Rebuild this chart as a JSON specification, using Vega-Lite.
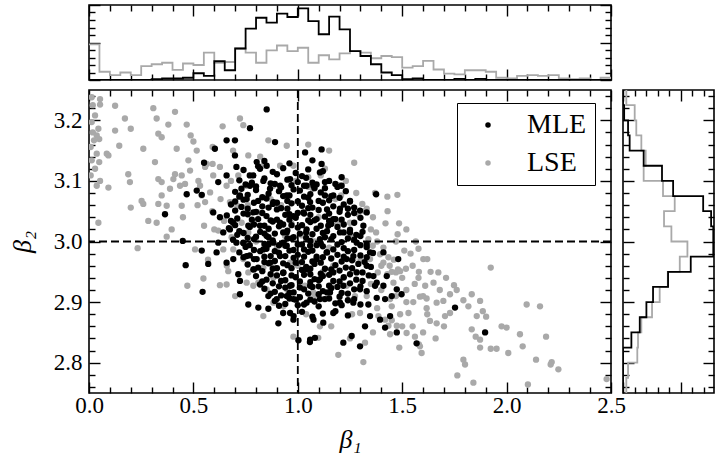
{
"$schema": "https://vega.github.io/schema/vega-lite/v6.json",
"background": "white",
"padding": {"left": 8, "top": 3, "right": 0, "bottom": 0},
"bounds": "flush",
"spacing": 10,
"config": {
  "font": "Liberation Serif, DejaVu Serif, serif",
  "view": {"stroke": "#000000", "strokeWidth": 1.6},
  "axis": {"domain": false, "grid": false, "tickColor": "#000000", "tickWidth": 1.4, "labelFont": "Liberation Serif, DejaVu Serif, serif", "labelFontSize": 23, "labelColor": "#000000", "labelOverlap": false, "labelFlush": false, "titleFont": "Liberation Serif, DejaVu Serif, serif", "titleFontSize": 26, "titleFontWeight": "normal", "titleFontStyle": "italic", "titleColor": "#000000", "zindex": 1}
},
"datasets": {
"pts": [
{"est":"LSE","b1":0.013,"b2":3.238},{"est":"LSE","b1":0.053,"b2":3.235},{"est":"LSE","b1":0.053,"b2":3.226},{"est":"LSE","b1":0.018,"b2":3.225},{"est":"LSE","b1":0.029,"b2":3.208},{"est":"LSE","b1":0.013,"b2":3.197},{"est":"LSE","b1":0.045,"b2":3.186},{"est":"LSE","b1":0.018,"b2":3.18},{"est":"LSE","b1":0.037,"b2":3.175},{"est":"LSE","b1":0.024,"b2":3.167},{"est":"LSE","b1":0.049,"b2":3.169},{"est":"LSE","b1":0.008,"b2":3.156},{"est":"LSE","b1":0.037,"b2":3.145},{"est":"LSE","b1":0.013,"b2":3.134},{"est":"LSE","b1":0.049,"b2":3.131},{"est":"LSE","b1":0.029,"b2":3.12},{"est":"LSE","b1":0.008,"b2":3.109},{"est":"LSE","b1":0.053,"b2":3.1},{"est":"LSE","b1":0.037,"b2":3.092},{"est":"LSE","b1":0.093,"b2":3.089},{"est":"LSE","b1":0.045,"b2":3.031},{"est":"LSE","b1":0.125,"b2":3.224},{"est":"LSE","b1":0.172,"b2":3.203},{"est":"LSE","b1":0.2,"b2":3.186},{"est":"LSE","b1":0.125,"b2":3.183},{"est":"LSE","b1":0.085,"b2":3.145},{"est":"LSE","b1":0.093,"b2":3.142},{"est":"LSE","b1":0.145,"b2":3.158},{"est":"LSE","b1":0.188,"b2":3.111},{"est":"LSE","b1":0.196,"b2":3.098},{"est":"LSE","b1":0.252,"b2":3.067},{"est":"LSE","b1":0.2,"b2":3.056},{"est":"LSE","b1":0.233,"b2":2.989},{"est":"LSE","b1":0.26,"b2":3.153},{"est":"LSE","b1":0.26,"b2":3.062},{"est":"LSE","b1":0.284,"b2":3.034},{"est":"LSE","b1":0.308,"b2":3.22},{"est":"LSE","b1":0.324,"b2":3.203},{"est":"LSE","b1":0.332,"b2":3.178},{"est":"LSE","b1":0.348,"b2":3.172},{"est":"LSE","b1":0.316,"b2":3.131},{"est":"LSE","b1":0.332,"b2":3.103},{"est":"LSE","b1":0.332,"b2":3.062},{"est":"LSE","b1":0.348,"b2":3.076},{"est":"LSE","b1":0.348,"b2":3.098},{"est":"LSE","b1":0.372,"b2":3.059},{"est":"LSE","b1":0.388,"b2":3.087},{"est":"LSE","b1":0.38,"b2":3.193},{"est":"LSE","b1":0.412,"b2":3.214},{"est":"LSE","b1":0.42,"b2":3.153},{"est":"LSE","b1":0.404,"b2":3.103},{"est":"LSE","b1":0.412,"b2":3.111},{"est":"LSE","b1":0.444,"b2":3.109},{"est":"LSE","b1":0.436,"b2":3.092},{"est":"LSE","b1":0.396,"b2":3.02},{"est":"LSE","b1":0.444,"b2":3.059},{"est":"LSE","b1":0.324,"b2":3.031},{"est":"LSE","b1":0.372,"b2":3.008},{"est":"LSE","b1":0.468,"b2":3.193},{"est":"LSE","b1":0.487,"b2":3.175},{"est":"LSE","b1":0.5,"b2":3.165},{"est":"LSE","b1":0.516,"b2":3.15},{"est":"LSE","b1":0.476,"b2":3.134},{"est":"LSE","b1":0.484,"b2":3.117},{"est":"LSE","b1":0.46,"b2":3.095},{"est":"LSE","b1":0.524,"b2":3.1},{"est":"LSE","b1":0.532,"b2":3.092},{"est":"LSE","b1":0.556,"b2":3.123},{"est":"LSE","b1":0.564,"b2":3.128},{"est":"LSE","b1":0.54,"b2":3.076},{"est":"LSE","b1":0.58,"b2":3.081},{"est":"LSE","b1":0.556,"b2":3.065},{"est":"LSE","b1":0.471,"b2":2.927},{"est":"LSE","b1":0.508,"b2":2.987},{"est":"LSE","b1":0.551,"b2":3.026},{"est":"LSE","b1":0.548,"b2":2.939},{"est":"LSE","b1":0.592,"b2":3.156},{"est":"LSE","b1":0.592,"b2":3.128},{"est":"LSE","b1":0.595,"b2":3.109},{"est":"LSE","b1":0.627,"b2":3.123},{"est":"LSE","b1":0.659,"b2":3.092},{"est":"LSE","b1":0.675,"b2":3.065},{"est":"LSE","b1":0.647,"b2":3.034},{"est":"LSE","b1":0.619,"b2":3.018},{"est":"LSE","b1":0.643,"b2":2.987},{"est":"LSE","b1":0.683,"b2":3.007},{"est":"LSE","b1":0.627,"b2":2.928},{"est":"LSE","b1":0.659,"b2":2.929},{"est":"LSE","b1":0.667,"b2":2.951},{"est":"LSE","b1":0.691,"b2":2.987},{"est":"LSE","b1":0.723,"b2":3.203},{"est":"LSE","b1":0.739,"b2":3.192},{"est":"LSE","b1":0.763,"b2":3.142},{"est":"LSE","b1":0.715,"b2":3.109},{"est":"LSE","b1":0.755,"b2":3.092},{"est":"LSE","b1":0.71,"b2":3.059},{"est":"LSE","b1":0.731,"b2":3.031},{"est":"LSE","b1":0.763,"b2":3.015},{"est":"LSE","b1":0.739,"b2":2.971},{"est":"LSE","b1":0.763,"b2":2.949},{"est":"LSE","b1":0.755,"b2":2.932},{"est":"LSE","b1":0.787,"b2":2.927},{"est":"LSE","b1":0.811,"b2":2.932},{"est":"LSE","b1":0.851,"b2":2.921},{"est":"LSE","b1":0.835,"b2":2.957},{"est":"LSE","b1":0.883,"b2":2.94},{"est":"LSE","b1":0.859,"b2":3.167},{"est":"LSE","b1":0.947,"b2":3.158},{"est":"LSE","b1":0.979,"b2":3.125},{"est":"LSE","b1":0.835,"b2":2.877},{"est":"LSE","b1":0.883,"b2":2.899},{"est":"LSE","b1":0.931,"b2":2.893},{"est":"LSE","b1":0.979,"b2":2.843},{"est":"LSE","b1":0.963,"b2":2.965},{"est":"LSE","b1":0.939,"b2":3.009},{"est":"LSE","b1":0.811,"b2":3.048},{"est":"LSE","b1":0.883,"b2":3.092},{"est":"LSE","b1":0.915,"b2":3.125},{"est":"LSE","b1":0.835,"b2":3.125},{"est":"LSE","b1":0.87,"b2":3.07},
{"est":"LSE","b1":1.429,"b2":3.074},{"est":"LSE","b1":1.477,"b2":3.077},{"est":"LSE","b1":1.485,"b2":3.03},{"est":"LSE","b1":1.478,"b2":3.012},{"est":"LSE","b1":1.375,"b2":3.015},{"est":"LSE","b1":1.565,"b2":3.0},{"est":"LSE","b1":1.578,"b2":2.988},{"est":"LSE","b1":1.601,"b2":2.971},{"est":"LSE","b1":1.62,"b2":2.971},{"est":"LSE","b1":1.51,"b2":2.985},{"est":"LSE","b1":1.48,"b2":2.954},{"est":"LSE","b1":1.47,"b2":2.949},{"est":"LSE","b1":1.518,"b2":2.955},{"est":"LSE","b1":1.578,"b2":2.94},{"est":"LSE","b1":1.636,"b2":2.95},{"est":"LSE","b1":1.673,"b2":2.949},{"est":"LSE","b1":1.65,"b2":2.932},{"est":"LSE","b1":1.61,"b2":2.927},{"est":"LSE","b1":1.585,"b2":2.909},{"est":"LSE","b1":1.617,"b2":2.906},{"est":"LSE","b1":1.553,"b2":2.9},{"est":"LSE","b1":1.53,"b2":2.882},{"est":"LSE","b1":1.617,"b2":2.89},{"est":"LSE","b1":1.665,"b2":2.899},{"est":"LSE","b1":1.705,"b2":2.877},{"est":"LSE","b1":1.697,"b2":2.902},{"est":"LSE","b1":1.729,"b2":2.913},{"est":"LSE","b1":1.748,"b2":2.928},{"est":"LSE","b1":1.761,"b2":2.92},{"est":"LSE","b1":1.793,"b2":2.903},{"est":"LSE","b1":1.833,"b2":2.913},{"est":"LSE","b1":1.817,"b2":2.893},{"est":"LSE","b1":1.873,"b2":2.902},{"est":"LSE","b1":1.886,"b2":2.885},{"est":"LSE","b1":1.902,"b2":2.876},{"est":"LSE","b1":1.924,"b2":2.957},{"est":"LSE","b1":1.857,"b2":2.877},{"est":"LSE","b1":1.833,"b2":2.855},{"est":"LSE","b1":1.873,"b2":2.825},{"est":"LSE","b1":1.924,"b2":2.823},{"est":"LSE","b1":1.952,"b2":2.823},{"est":"LSE","b1":2.008,"b2":2.816},{"est":"LSE","b1":1.976,"b2":2.86},{"est":"LSE","b1":2.0,"b2":2.858},{"est":"LSE","b1":2.064,"b2":2.847},{"est":"LSE","b1":2.096,"b2":2.896},{"est":"LSE","b1":2.16,"b2":2.893},{"est":"LSE","b1":2.189,"b2":2.843},{"est":"LSE","b1":2.141,"b2":2.805},{"est":"LSE","b1":2.077,"b2":2.827},{"est":"LSE","b1":2.216,"b2":2.801},{"est":"LSE","b1":2.211,"b2":2.797},{"est":"LSE","b1":2.248,"b2":2.789},{"est":"LSE","b1":2.102,"b2":2.764},{"est":"LSE","b1":1.841,"b2":2.767},{"est":"LSE","b1":1.764,"b2":2.779},{"est":"LSE","b1":1.793,"b2":2.805},{"est":"LSE","b1":1.801,"b2":2.797},{"est":"LSE","b1":2.479,"b2":2.773},{"est":"LSE","b1":1.852,"b2":2.843},{"est":"LSE","b1":1.873,"b2":2.838},{"est":"LSE","b1":1.665,"b2":2.865},{"est":"LSE","b1":1.633,"b2":2.869},{"est":"LSE","b1":1.729,"b2":2.882},{"est":"LSE","b1":1.593,"b2":2.816},{"est":"LSE","b1":1.585,"b2":2.827},{"est":"LSE","b1":1.486,"b2":2.825},{"est":"LSE","b1":1.521,"b2":2.849},{"est":"LSE","b1":1.561,"b2":2.843},{"est":"LSE","b1":1.442,"b2":2.847},{"est":"LSE","b1":1.418,"b2":2.871},{"est":"LSE","b1":1.434,"b2":2.861},{"est":"LSE","b1":1.474,"b2":2.861},{"est":"LSE","b1":1.386,"b2":2.877},{"est":"LSE","b1":1.322,"b2":2.833},{"est":"LSE","b1":1.314,"b2":2.801},{"est":"LSE","b1":1.194,"b2":2.813},{"est":"LSE","b1":1.45,"b2":2.893},{"est":"LSE","b1":1.442,"b2":2.905},{"est":"LSE","b1":1.429,"b2":2.946},{"est":"LSE","b1":1.458,"b2":2.932},{"est":"LSE","b1":1.41,"b2":2.965},{"est":"LSE","b1":1.434,"b2":2.974},{"est":"LSE","b1":1.394,"b2":2.979},{"est":"LSE","b1":1.346,"b2":2.971},{"est":"LSE","b1":1.49,"b2":2.951},{"est":"LSE","b1":1.383,"b2":2.949},{"est":"LSE","b1":1.359,"b2":2.993},{"est":"LSE","b1":1.338,"b2":3.004},{"est":"LSE","b1":1.309,"b2":3.062},{"est":"LSE","b1":1.33,"b2":3.054},{"est":"LSE","b1":1.29,"b2":3.045},{"est":"LSE","b1":1.25,"b2":3.031},{"est":"LSE","b1":1.197,"b2":3.093},{"est":"LSE","b1":1.207,"b2":3.076},{"est":"LSE","b1":1.253,"b2":3.007},{"est":"LSE","b1":1.266,"b2":2.971},{"est":"LSE","b1":1.234,"b2":2.927},{"est":"LSE","b1":1.274,"b2":2.91},{"est":"LSE","b1":1.298,"b2":2.882},{"est":"LSE","b1":1.162,"b2":2.927},{"est":"LSE","b1":1.122,"b2":2.905},{"est":"LSE","b1":1.106,"b2":2.86},{"est":"LSE","b1":1.098,"b2":2.841},{"est":"LSE","b1":1.074,"b2":2.916},{"est":"LSE","b1":1.034,"b2":2.927},{"est":"LSE","b1":1.17,"b2":2.96},{"est":"LSE","b1":1.11,"b2":3.109},{"est":"LSE","b1":1.05,"b2":3.106},{"est":"LSE","b1":1.071,"b2":3.087},
{"est":"LSE","b1":0.92,"b2":3.06},{"est":"LSE","b1":1.05,"b2":3.09},{"est":"LSE","b1":1.18,"b2":3.07},{"est":"LSE","b1":0.97,"b2":3.03},{"est":"LSE","b1":1.1,"b2":3.04},{"est":"LSE","b1":1.25,"b2":3.02},{"est":"LSE","b1":0.9,"b2":2.99},{"est":"LSE","b1":1.02,"b2":3.01},{"est":"LSE","b1":1.15,"b2":2.99},{"est":"LSE","b1":1.3,"b2":2.97},{"est":"LSE","b1":1.0,"b2":2.96},{"est":"LSE","b1":1.12,"b2":2.95},{"est":"LSE","b1":1.22,"b2":2.94},{"est":"LSE","b1":0.95,"b2":2.92},{"est":"LSE","b1":1.08,"b2":2.91},{"est":"LSE","b1":1.2,"b2":2.9},{"est":"LSE","b1":1.35,"b2":2.93},{"est":"LSE","b1":1.28,"b2":2.95},{"est":"LSE","b1":0.86,"b2":3.02},{"est":"LSE","b1":0.99,"b2":3.1},{"est":"LSE","b1":1.13,"b2":3.12},{"est":"LSE","b1":1.23,"b2":3.1},{"est":"LSE","b1":1.32,"b2":3.05},{"est":"LSE","b1":1.38,"b2":3.0},{"est":"LSE","b1":1.4,"b2":2.96},{"est":"LSE","b1":0.88,"b2":2.96},{"est":"LSE","b1":1.04,"b2":2.88},{"est":"LSE","b1":1.16,"b2":2.86},{"est":"LSE","b1":1.26,"b2":2.88},{"est":"LSE","b1":0.8,"b2":3.0},{"est":"LSE","b1":0.76,"b2":3.06},{"est":"LSE","b1":0.82,"b2":3.14},{"est":"LSE","b1":1.08,"b2":3.0},{"est":"LSE","b1":1.19,"b2":3.03},{"est":"LSE","b1":1.33,"b2":2.99},{"est":"LSE","b1":1.45,"b2":2.95},{"est":"LSE","b1":1.52,"b2":2.92},{"est":"LSE","b1":1.55,"b2":2.96},{"est":"LSE","b1":1.42,"b2":3.03},{"est":"LSE","b1":1.37,"b2":3.08},{"est":"LSE","b1":1.27,"b2":3.13},{"est":"LSE","b1":1.15,"b2":3.15},{"est":"LSE","b1":1.05,"b2":3.16},{"est":"LSE","b1":0.69,"b2":3.15},{"est":"LSE","b1":0.64,"b2":3.19},{"est":"LSE","b1":0.59,"b2":3.05},{"est":"LSE","b1":0.66,"b2":2.96},{"est":"LSE","b1":0.7,"b2":2.91},{"est":"LSE","b1":1.47,"b2":2.91},{"est":"LSE","b1":1.49,"b2":2.88},{"est":"LSE","b1":1.36,"b2":2.85},{"est":"LSE","b1":1.25,"b2":2.84},{"est":"LSE","b1":1.62,"b2":2.88},{"est":"LSE","b1":1.68,"b2":2.92},{"est":"LSE","b1":1.71,"b2":2.94},{"est":"LSE","b1":1.55,"b2":2.86},{"est":"LSE","b1":1.58,"b2":2.83},{"est":"LSE","b1":1.46,"b2":2.97},{"est":"LSE","b1":1.52,"b2":3.02},{"est":"LSE","b1":1.43,"b2":3.05},
{"est":"LSE","b1":1.35,"b2":3.02},{"est":"LSE","b1":1.41,"b2":2.99},{"est":"LSE","b1":1.44,"b2":2.96},{"est":"LSE","b1":1.5,"b2":2.94},{"est":"LSE","b1":1.56,"b2":2.93},{"est":"LSE","b1":1.52,"b2":2.9},{"est":"LSE","b1":1.6,"b2":2.91},{"est":"LSE","b1":1.58,"b2":2.95},{"est":"LSE","b1":1.54,"b2":2.98},{"est":"LSE","b1":1.47,"b2":3.0},{"est":"LSE","b1":1.4,"b2":2.92},{"est":"LSE","b1":1.33,"b2":2.91},{"est":"LSE","b1":1.38,"b2":2.89},{"est":"LSE","b1":1.45,"b2":2.87},{"est":"LSE","b1":1.5,"b2":2.86},{"est":"LSE","b1":1.6,"b2":2.85},{"est":"LSE","b1":1.66,"b2":2.84},{"est":"LSE","b1":1.7,"b2":2.86},{"est":"LSE","b1":1.36,"b2":3.04},{"est":"LSE","b1":1.28,"b2":3.08},{"est":"LSE","b1":0.45,"b2":3.04},{"est":"LSE","b1":0.52,"b2":3.06},{"est":"LSE","b1":0.6,"b2":3.02},{"est":"LSE","b1":0.63,"b2":3.07},{"est":"LSE","b1":0.68,"b2":3.1},{"est":"LSE","b1":0.57,"b2":2.97},
{"est":"MLE","b1":0.851,"b2":3.218},{"est":"MLE","b1":0.891,"b2":3.164},{"est":"MLE","b1":0.771,"b2":3.187},{"est":"MLE","b1":0.659,"b2":3.167},{"est":"MLE","b1":0.603,"b2":3.153},{"est":"MLE","b1":0.699,"b2":3.167},{"est":"MLE","b1":0.699,"b2":3.142},{"est":"MLE","b1":0.706,"b2":3.123},{"est":"MLE","b1":0.619,"b2":3.098},{"est":"MLE","b1":0.659,"b2":3.109},{"est":"MLE","b1":0.551,"b2":3.13},{"est":"MLE","b1":0.516,"b2":3.084},{"est":"MLE","b1":0.468,"b2":3.078},{"est":"MLE","b1":0.54,"b2":3.077},{"est":"MLE","b1":0.364,"b2":3.045},{"est":"MLE","b1":0.595,"b2":3.048},{"est":"MLE","b1":0.627,"b2":3.04},{"est":"MLE","b1":0.449,"b2":3.001},{"est":"MLE","b1":0.463,"b2":2.961},{"est":"MLE","b1":0.54,"b2":2.985},{"est":"MLE","b1":0.571,"b2":2.963},{"est":"MLE","b1":0.544,"b2":2.917},{"est":"MLE","b1":0.611,"b2":2.982},{"est":"MLE","b1":0.619,"b2":2.998},{"est":"MLE","b1":0.643,"b2":3.015},{"est":"MLE","b1":0.675,"b2":3.02},{"est":"MLE","b1":0.691,"b2":2.971},{"est":"MLE","b1":0.715,"b2":2.946},{"est":"MLE","b1":0.723,"b2":2.935},{"est":"MLE","b1":0.723,"b2":2.913},{"est":"MLE","b1":0.763,"b2":2.896},{"est":"MLE","b1":0.811,"b2":2.891},{"est":"MLE","b1":0.859,"b2":2.889},{"est":"MLE","b1":0.907,"b2":2.865},{"est":"MLE","b1":0.859,"b2":2.91},{"est":"MLE","b1":0.899,"b2":2.905},{"est":"MLE","b1":0.819,"b2":2.929},{"est":"MLE","b1":0.787,"b2":2.954},{"est":"MLE","b1":0.755,"b2":2.976},{"est":"MLE","b1":0.739,"b2":2.998},{"est":"MLE","b1":0.763,"b2":3.026},{"est":"MLE","b1":0.787,"b2":3.048},{"est":"MLE","b1":0.755,"b2":3.07},{"est":"MLE","b1":0.723,"b2":3.076},{"est":"MLE","b1":0.771,"b2":3.092},{"est":"MLE","b1":0.787,"b2":3.109},{"est":"MLE","b1":0.819,"b2":3.12},{"est":"MLE","b1":0.803,"b2":3.131},{"est":"MLE","b1":0.851,"b2":3.125},{"est":"MLE","b1":0.835,"b2":3.1},{"est":"MLE","b1":0.867,"b2":3.087},{"est":"MLE","b1":0.883,"b2":3.065},{"est":"MLE","b1":0.915,"b2":3.092},{"est":"MLE","b1":0.947,"b2":3.076},{"est":"MLE","b1":0.963,"b2":3.103},{"est":"MLE","b1":0.819,"b2":3.026},{"est":"MLE","b1":0.851,"b2":3.009},{"est":"MLE","b1":0.883,"b2":2.998},{"est":"MLE","b1":0.835,"b2":2.987},{"est":"MLE","b1":0.803,"b2":2.971},{"est":"MLE","b1":0.867,"b2":2.965},{"est":"MLE","b1":0.915,"b2":2.976},{"est":"MLE","b1":0.947,"b2":2.993},{"est":"MLE","b1":0.931,"b2":2.949},{"est":"MLE","b1":0.963,"b2":2.927},{"est":"MLE","b1":0.979,"b2":2.905},{"est":"MLE","b1":0.963,"b2":2.882},{"est":"MLE","b1":0.979,"b2":2.871},{"est":"MLE","b1":0.947,"b2":2.91},{"est":"MLE","b1":1.003,"b2":2.837},{"est":"MLE","b1":1.058,"b2":2.834},{"est":"MLE","b1":0.979,"b2":3.042},{"est":"MLE","b1":0.915,"b2":3.031},{"est":"MLE","b1":0.947,"b2":3.015},{"est":"MLE","b1":0.706,"b2":2.998},{"est":"MLE","b1":0.659,"b2":2.965},
{"est":"MLE","b1":1.114,"b2":3.152},{"est":"MLE","b1":1.035,"b2":3.147},{"est":"MLE","b1":1.114,"b2":3.128},{"est":"MLE","b1":1.21,"b2":3.106},{"est":"MLE","b1":1.13,"b2":3.098},{"est":"MLE","b1":1.075,"b2":3.092},{"est":"MLE","b1":1.21,"b2":3.092},{"est":"MLE","b1":1.25,"b2":3.067},{"est":"MLE","b1":1.202,"b2":3.054},{"est":"MLE","b1":1.298,"b2":3.051},{"est":"MLE","b1":1.375,"b2":3.078},{"est":"MLE","b1":1.17,"b2":3.037},{"est":"MLE","b1":1.146,"b2":3.026},{"est":"MLE","b1":1.202,"b2":3.015},{"est":"MLE","b1":1.282,"b2":2.998},{"est":"MLE","b1":1.266,"b2":2.976},{"est":"MLE","b1":1.346,"b2":2.982},{"est":"MLE","b1":1.41,"b2":2.982},{"est":"MLE","b1":1.481,"b2":2.971},{"est":"MLE","b1":1.426,"b2":2.943},{"est":"MLE","b1":1.37,"b2":2.927},{"est":"MLE","b1":1.378,"b2":2.932},{"est":"MLE","b1":1.298,"b2":2.921},{"est":"MLE","b1":1.338,"b2":2.896},{"est":"MLE","b1":1.378,"b2":2.907},{"est":"MLE","b1":1.474,"b2":2.921},{"est":"MLE","b1":1.418,"b2":2.905},{"est":"MLE","b1":1.497,"b2":2.913},{"est":"MLE","b1":1.418,"b2":2.858},{"est":"MLE","b1":1.474,"b2":2.85},{"est":"MLE","b1":1.346,"b2":2.877},{"est":"MLE","b1":1.322,"b2":2.86},{"est":"MLE","b1":1.298,"b2":2.827},{"est":"MLE","b1":1.258,"b2":2.844},{"est":"MLE","b1":1.218,"b2":2.833},{"est":"MLE","b1":1.17,"b2":2.882},{"est":"MLE","b1":1.122,"b2":2.866},{"est":"MLE","b1":1.075,"b2":2.871},{"est":"MLE","b1":1.059,"b2":2.838},{"est":"MLE","b1":1.082,"b2":2.841},{"est":"MLE","b1":1.569,"b2":2.832},{"est":"MLE","b1":1.753,"b2":2.891},{"est":"MLE","b1":1.897,"b2":2.85},{"est":"MLE","b1":1.234,"b2":2.971},{"est":"MLE","b1":1.17,"b2":2.949},{"est":"MLE","b1":1.106,"b2":2.938},{"est":"MLE","b1":1.218,"b2":2.927},{"est":"MLE","b1":1.266,"b2":2.899},{"est":"MLE","b1":1.202,"b2":2.899},{"est":"MLE","b1":1.154,"b2":2.916},{"est":"MLE","b1":1.106,"b2":2.905},{"est":"MLE","b1":1.042,"b2":2.899},{"est":"MLE","b1":1.059,"b2":2.927},{"est":"MLE","b1":1.042,"b2":2.954},{"est":"MLE","b1":1.09,"b2":2.971},{"est":"MLE","b1":1.138,"b2":2.982},{"est":"MLE","b1":1.059,"b2":2.993},{"est":"MLE","b1":1.106,"b2":3.004},{"est":"MLE","b1":1.042,"b2":3.02},{"est":"MLE","b1":1.09,"b2":3.037},{"est":"MLE","b1":1.027,"b2":3.048},{"est":"MLE","b1":1.059,"b2":3.065},{"est":"MLE","b1":1.17,"b2":3.076},{"est":"MLE","b1":1.106,"b2":3.114},{"est":"MLE","b1":1.042,"b2":3.092},{"est":"MLE","b1":1.33,"b2":3.048},{"est":"MLE","b1":1.314,"b2":3.026},{"est":"MLE","b1":1.25,"b2":3.015},{"est":"MLE","b1":1.33,"b2":2.96},{"est":"MLE","b1":1.282,"b2":2.949},{"est":"MLE","b1":1.362,"b2":2.943},{"est":"MLE","b1":1.41,"b2":2.927},{"est":"MLE","b1":1.45,"b2":2.91},{"est":"MLE","b1":1.394,"b2":2.871},{"est":"MLE","b1":1.442,"b2":2.877},
{"est":"MLE","b1":0.74,"b2":3.118},{"est":"MLE","b1":0.81,"b2":3.124},{"est":"MLE","b1":0.88,"b2":3.115},{"est":"MLE","b1":0.93,"b2":3.121},{"est":"MLE","b1":0.99,"b2":3.113},{"est":"MLE","b1":1.05,"b2":3.119},{"est":"MLE","b1":1.12,"b2":3.116},
{"est":"MLE","b1":0.72,"b2":3.101},{"est":"MLE","b1":0.78,"b2":3.097},{"est":"MLE","b1":0.84,"b2":3.104},{"est":"MLE","b1":0.89,"b2":3.095},{"est":"MLE","b1":0.95,"b2":3.102},{"est":"MLE","b1":1.0,"b2":3.098},{"est":"MLE","b1":1.04,"b2":3.105},{"est":"MLE","b1":1.09,"b2":3.094},{"est":"MLE","b1":1.15,"b2":3.1},
{"est":"MLE","b1":0.7,"b2":3.082},{"est":"MLE","b1":0.76,"b2":3.077},{"est":"MLE","b1":0.8,"b2":3.085},{"est":"MLE","b1":0.86,"b2":3.079},{"est":"MLE","b1":0.91,"b2":3.083},{"est":"MLE","b1":0.96,"b2":3.076},{"est":"MLE","b1":1.01,"b2":3.084},{"est":"MLE","b1":1.06,"b2":3.078},{"est":"MLE","b1":1.11,"b2":3.081},{"est":"MLE","b1":1.16,"b2":3.075},{"est":"MLE","b1":1.23,"b2":3.083},
{"est":"MLE","b1":0.68,"b2":3.061},{"est":"MLE","b1":0.73,"b2":3.057},{"est":"MLE","b1":0.79,"b2":3.064},{"est":"MLE","b1":0.83,"b2":3.058},{"est":"MLE","b1":0.88,"b2":3.062},{"est":"MLE","b1":0.92,"b2":3.055},{"est":"MLE","b1":0.97,"b2":3.063},{"est":"MLE","b1":1.02,"b2":3.059},{"est":"MLE","b1":1.07,"b2":3.056},{"est":"MLE","b1":1.12,"b2":3.064},{"est":"MLE","b1":1.17,"b2":3.058},{"est":"MLE","b1":1.22,"b2":3.061},{"est":"MLE","b1":1.27,"b2":3.056},
{"est":"MLE","b1":0.66,"b2":3.043},{"est":"MLE","b1":0.71,"b2":3.038},{"est":"MLE","b1":0.76,"b2":3.045},{"est":"MLE","b1":0.81,"b2":3.037},{"est":"MLE","b1":0.85,"b2":3.042},{"est":"MLE","b1":0.9,"b2":3.036},{"est":"MLE","b1":0.94,"b2":3.044},{"est":"MLE","b1":0.99,"b2":3.039},{"est":"MLE","b1":1.03,"b2":3.046},{"est":"MLE","b1":1.08,"b2":3.035},{"est":"MLE","b1":1.13,"b2":3.041},{"est":"MLE","b1":1.18,"b2":3.037},{"est":"MLE","b1":1.24,"b2":3.044},{"est":"MLE","b1":1.3,"b2":3.039},
{"est":"MLE","b1":0.67,"b2":3.022},{"est":"MLE","b1":0.72,"b2":3.017},{"est":"MLE","b1":0.77,"b2":3.024},{"est":"MLE","b1":0.82,"b2":3.016},{"est":"MLE","b1":0.86,"b2":3.021},{"est":"MLE","b1":0.91,"b2":3.025},{"est":"MLE","b1":0.95,"b2":3.018},{"est":"MLE","b1":1.0,"b2":3.023},{"est":"MLE","b1":1.04,"b2":3.015},{"est":"MLE","b1":1.09,"b2":3.021},{"est":"MLE","b1":1.14,"b2":3.017},{"est":"MLE","b1":1.19,"b2":3.024},{"est":"MLE","b1":1.25,"b2":3.019},{"est":"MLE","b1":1.31,"b2":3.016},
{"est":"MLE","b1":0.69,"b2":3.003},{"est":"MLE","b1":0.74,"b2":2.997},{"est":"MLE","b1":0.79,"b2":3.004},{"est":"MLE","b1":0.84,"b2":2.996},{"est":"MLE","b1":0.88,"b2":3.002},{"est":"MLE","b1":0.93,"b2":2.998},{"est":"MLE","b1":0.97,"b2":3.005},{"est":"MLE","b1":1.02,"b2":2.995},{"est":"MLE","b1":1.06,"b2":3.001},{"est":"MLE","b1":1.11,"b2":2.997},{"est":"MLE","b1":1.16,"b2":3.004},{"est":"MLE","b1":1.21,"b2":2.999},{"est":"MLE","b1":1.27,"b2":3.003},{"est":"MLE","b1":1.33,"b2":2.996},
{"est":"MLE","b1":0.72,"b2":2.982},{"est":"MLE","b1":0.77,"b2":2.977},{"est":"MLE","b1":0.82,"b2":2.984},{"est":"MLE","b1":0.87,"b2":2.976},{"est":"MLE","b1":0.91,"b2":2.981},{"est":"MLE","b1":0.96,"b2":2.985},{"est":"MLE","b1":1.0,"b2":2.978},{"est":"MLE","b1":1.05,"b2":2.983},{"est":"MLE","b1":1.09,"b2":2.975},{"est":"MLE","b1":1.14,"b2":2.982},{"est":"MLE","b1":1.19,"b2":2.978},{"est":"MLE","b1":1.24,"b2":2.984},{"est":"MLE","b1":1.3,"b2":2.977},{"est":"MLE","b1":1.36,"b2":2.981},
{"est":"MLE","b1":0.76,"b2":2.962},{"est":"MLE","b1":0.81,"b2":2.957},{"est":"MLE","b1":0.86,"b2":2.964},{"est":"MLE","b1":0.9,"b2":2.956},{"est":"MLE","b1":0.95,"b2":2.961},{"est":"MLE","b1":0.99,"b2":2.965},{"est":"MLE","b1":1.04,"b2":2.958},{"est":"MLE","b1":1.08,"b2":2.963},{"est":"MLE","b1":1.13,"b2":2.955},{"est":"MLE","b1":1.18,"b2":2.961},{"est":"MLE","b1":1.23,"b2":2.957},{"est":"MLE","b1":1.29,"b2":2.963},{"est":"MLE","b1":1.35,"b2":2.958},
{"est":"MLE","b1":0.8,"b2":2.943},{"est":"MLE","b1":0.85,"b2":2.937},{"est":"MLE","b1":0.9,"b2":2.944},{"est":"MLE","b1":0.94,"b2":2.936},{"est":"MLE","b1":0.99,"b2":2.941},{"est":"MLE","b1":1.03,"b2":2.945},{"est":"MLE","b1":1.08,"b2":2.938},{"est":"MLE","b1":1.12,"b2":2.943},{"est":"MLE","b1":1.17,"b2":2.935},{"est":"MLE","b1":1.22,"b2":2.941},{"est":"MLE","b1":1.28,"b2":2.937},{"est":"MLE","b1":1.34,"b2":2.944},
{"est":"MLE","b1":0.84,"b2":2.922},{"est":"MLE","b1":0.89,"b2":2.917},{"est":"MLE","b1":0.94,"b2":2.924},{"est":"MLE","b1":0.98,"b2":2.916},{"est":"MLE","b1":1.03,"b2":2.921},{"est":"MLE","b1":1.07,"b2":2.925},{"est":"MLE","b1":1.12,"b2":2.918},{"est":"MLE","b1":1.16,"b2":2.923},{"est":"MLE","b1":1.21,"b2":2.915},{"est":"MLE","b1":1.27,"b2":2.921},{"est":"MLE","b1":1.33,"b2":2.918},
{"est":"MLE","b1":0.89,"b2":2.902},{"est":"MLE","b1":0.94,"b2":2.897},{"est":"MLE","b1":0.99,"b2":2.904},{"est":"MLE","b1":1.03,"b2":2.896},{"est":"MLE","b1":1.08,"b2":2.901},{"est":"MLE","b1":1.13,"b2":2.905},{"est":"MLE","b1":1.18,"b2":2.898},{"est":"MLE","b1":1.24,"b2":2.903},{"est":"MLE","b1":1.3,"b2":2.896},
{"est":"MLE","b1":0.93,"b2":2.882},{"est":"MLE","b1":0.98,"b2":2.877},{"est":"MLE","b1":1.02,"b2":2.884},{"est":"MLE","b1":1.07,"b2":2.876},{"est":"MLE","b1":1.12,"b2":2.881},{"est":"MLE","b1":1.18,"b2":2.885},{"est":"MLE","b1":1.24,"b2":2.878},
{"est":"MLE","b1":0.74,"b2":3.069},{"est":"MLE","b1":0.85,"b2":3.071},{"est":"MLE","b1":0.95,"b2":3.067},{"est":"MLE","b1":1.05,"b2":3.072},{"est":"MLE","b1":1.15,"b2":3.068},
{"est":"MLE","b1":0.7,"b2":3.051},{"est":"MLE","b1":0.8,"b2":3.049},{"est":"MLE","b1":0.9,"b2":3.053},{"est":"MLE","b1":1.0,"b2":3.047},{"est":"MLE","b1":1.1,"b2":3.052},{"est":"MLE","b1":1.2,"b2":3.049},
{"est":"MLE","b1":0.69,"b2":3.031},{"est":"MLE","b1":0.79,"b2":3.028},{"est":"MLE","b1":0.88,"b2":3.033},{"est":"MLE","b1":0.97,"b2":3.027},{"est":"MLE","b1":1.06,"b2":3.032},{"est":"MLE","b1":1.16,"b2":3.029},{"est":"MLE","b1":1.27,"b2":3.031},
{"est":"MLE","b1":0.71,"b2":3.011},{"est":"MLE","b1":0.8,"b2":3.008},{"est":"MLE","b1":0.89,"b2":3.013},{"est":"MLE","b1":0.98,"b2":3.007},{"est":"MLE","b1":1.07,"b2":3.012},{"est":"MLE","b1":1.17,"b2":3.009},{"est":"MLE","b1":1.28,"b2":3.011},
{"est":"MLE","b1":0.75,"b2":2.991},{"est":"MLE","b1":0.85,"b2":2.988},{"est":"MLE","b1":0.94,"b2":2.993},{"est":"MLE","b1":1.03,"b2":2.987},{"est":"MLE","b1":1.12,"b2":2.992},{"est":"MLE","b1":1.22,"b2":2.989},{"est":"MLE","b1":1.33,"b2":2.991},
{"est":"MLE","b1":0.79,"b2":2.971},{"est":"MLE","b1":0.89,"b2":2.968},{"est":"MLE","b1":0.98,"b2":2.973},{"est":"MLE","b1":1.07,"b2":2.967},{"est":"MLE","b1":1.16,"b2":2.972},{"est":"MLE","b1":1.26,"b2":2.969},
{"est":"MLE","b1":0.83,"b2":2.951},{"est":"MLE","b1":0.93,"b2":2.948},{"est":"MLE","b1":1.02,"b2":2.953},{"est":"MLE","b1":1.11,"b2":2.947},{"est":"MLE","b1":1.2,"b2":2.952},{"est":"MLE","b1":1.31,"b2":2.949},
{"est":"MLE","b1":0.88,"b2":2.931},{"est":"MLE","b1":0.97,"b2":2.928},{"est":"MLE","b1":1.06,"b2":2.933},{"est":"MLE","b1":1.15,"b2":2.927},{"est":"MLE","b1":1.25,"b2":2.931},
{"est":"MLE","b1":0.92,"b2":2.911},{"est":"MLE","b1":1.01,"b2":2.908},{"est":"MLE","b1":1.1,"b2":2.913},{"est":"MLE","b1":1.2,"b2":2.909},
{"est":"MLE","b1":0.8,"b2":3.091},{"est":"MLE","b1":0.92,"b2":3.089},{"est":"MLE","b1":1.03,"b2":3.092},{"est":"MLE","b1":1.13,"b2":3.088},
{"est":"MLE","b1":0.77,"b2":3.109},{"est":"MLE","b1":0.9,"b2":3.111},{"est":"MLE","b1":1.02,"b2":3.108},
{"est":"MLE","b1":0.84,"b2":3.133},{"est":"MLE","b1":0.96,"b2":3.129},{"est":"MLE","b1":1.07,"b2":3.134},
{"est":"MLE","b1":0.73,"b2":3.087},{"est":"MLE","b1":0.98,"b2":3.086},{"est":"MLE","b1":1.08,"b2":3.088},{"est":"MLE","b1":1.19,"b2":3.09},
{"est":"MLE","b1":0.7,"b2":3.066},{"est":"MLE","b1":0.81,"b2":3.067},{"est":"MLE","b1":0.9,"b2":3.064},{"est":"MLE","b1":1.0,"b2":3.066},{"est":"MLE","b1":1.1,"b2":3.067},{"est":"MLE","b1":1.25,"b2":3.066},
{"est":"MLE","b1":0.74,"b2":3.046},{"est":"MLE","b1":0.83,"b2":3.047},{"est":"MLE","b1":0.96,"b2":3.045},{"est":"MLE","b1":1.06,"b2":3.044},{"est":"MLE","b1":1.15,"b2":3.046},{"est":"MLE","b1":1.27,"b2":3.047},
{"est":"MLE","b1":0.7,"b2":3.027},{"est":"MLE","b1":0.84,"b2":3.026},{"est":"MLE","b1":0.93,"b2":3.028},{"est":"MLE","b1":1.02,"b2":3.027},{"est":"MLE","b1":1.11,"b2":3.026},{"est":"MLE","b1":1.22,"b2":3.028},
{"est":"MLE","b1":0.76,"b2":3.006},{"est":"MLE","b1":0.86,"b2":3.007},{"est":"MLE","b1":0.95,"b2":3.005},{"est":"MLE","b1":1.04,"b2":3.006},{"est":"MLE","b1":1.13,"b2":3.007},{"est":"MLE","b1":1.24,"b2":3.005},{"est":"MLE","b1":1.3,"b2":3.009},
{"est":"MLE","b1":0.79,"b2":2.986},{"est":"MLE","b1":0.89,"b2":2.984},{"est":"MLE","b1":0.98,"b2":2.986},{"est":"MLE","b1":1.07,"b2":2.985},{"est":"MLE","b1":1.17,"b2":2.987},{"est":"MLE","b1":1.27,"b2":2.986},
{"est":"MLE","b1":0.84,"b2":2.966},{"est":"MLE","b1":0.93,"b2":2.964},{"est":"MLE","b1":1.02,"b2":2.966},{"est":"MLE","b1":1.11,"b2":2.965},{"est":"MLE","b1":1.21,"b2":2.967},{"est":"MLE","b1":1.32,"b2":2.966},
{"est":"MLE","b1":0.87,"b2":2.946},{"est":"MLE","b1":0.97,"b2":2.944},{"est":"MLE","b1":1.06,"b2":2.946},{"est":"MLE","b1":1.15,"b2":2.945},{"est":"MLE","b1":1.25,"b2":2.946},
{"est":"MLE","b1":0.91,"b2":2.926},{"est":"MLE","b1":1.01,"b2":2.924},{"est":"MLE","b1":1.1,"b2":2.926},{"est":"MLE","b1":1.19,"b2":2.925},{"est":"MLE","b1":1.3,"b2":2.926},
{"est":"MLE","b1":0.96,"b2":2.906},{"est":"MLE","b1":1.06,"b2":2.904},{"est":"MLE","b1":1.15,"b2":2.906},{"est":"MLE","b1":1.27,"b2":2.905},
{"est":"MLE","b1":0.75,"b2":3.094},{"est":"MLE","b1":0.87,"b2":3.096},{"est":"MLE","b1":0.97,"b2":3.093},{"est":"MLE","b1":1.07,"b2":3.097},{"est":"MLE","b1":1.18,"b2":3.095},
{"est":"MLE","b1":0.72,"b2":3.074},{"est":"MLE","b1":0.83,"b2":3.073},{"est":"MLE","b1":0.93,"b2":3.075},{"est":"MLE","b1":1.03,"b2":3.074},{"est":"MLE","b1":1.13,"b2":3.076},{"est":"MLE","b1":1.2,"b2":3.072},
{"est":"MLE","b1":0.76,"b2":3.054},{"est":"MLE","b1":0.86,"b2":3.056},{"est":"MLE","b1":0.95,"b2":3.054},{"est":"MLE","b1":1.05,"b2":3.055},{"est":"MLE","b1":1.14,"b2":3.053},{"est":"MLE","b1":1.24,"b2":3.054},
{"est":"MLE","b1":0.68,"b2":3.034},{"est":"MLE","b1":0.78,"b2":3.036},{"est":"MLE","b1":0.87,"b2":3.035},{"est":"MLE","b1":0.96,"b2":3.036},{"est":"MLE","b1":1.05,"b2":3.035},{"est":"MLE","b1":1.15,"b2":3.034},{"est":"MLE","b1":1.21,"b2":3.036},
{"est":"MLE","b1":0.74,"b2":3.014},{"est":"MLE","b1":0.84,"b2":3.013},{"est":"MLE","b1":0.93,"b2":3.015},{"est":"MLE","b1":1.01,"b2":3.013},{"est":"MLE","b1":1.12,"b2":3.014},{"est":"MLE","b1":1.22,"b2":3.015},
{"est":"MLE","b1":0.77,"b2":2.994},{"est":"MLE","b1":0.86,"b2":2.995},{"est":"MLE","b1":0.91,"b2":2.994},{"est":"MLE","b1":1.0,"b2":2.995},{"est":"MLE","b1":1.09,"b2":2.994},{"est":"MLE","b1":1.19,"b2":2.995},{"est":"MLE","b1":1.3,"b2":2.994},
{"est":"MLE","b1":0.74,"b2":2.974},{"est":"MLE","b1":0.84,"b2":2.975},{"est":"MLE","b1":0.94,"b2":2.976},{"est":"MLE","b1":1.03,"b2":2.975},{"est":"MLE","b1":1.12,"b2":2.974},{"est":"MLE","b1":1.22,"b2":2.975},{"est":"MLE","b1":1.33,"b2":2.974},
{"est":"MLE","b1":0.79,"b2":2.954},{"est":"MLE","b1":0.88,"b2":2.955},{"est":"MLE","b1":0.97,"b2":2.956},{"est":"MLE","b1":1.06,"b2":2.955},{"est":"MLE","b1":1.16,"b2":2.954},{"est":"MLE","b1":1.26,"b2":2.956},
{"est":"MLE","b1":0.83,"b2":2.934},{"est":"MLE","b1":0.92,"b2":2.935},{"est":"MLE","b1":1.01,"b2":2.934},{"est":"MLE","b1":1.1,"b2":2.936},{"est":"MLE","b1":1.2,"b2":2.934},{"est":"MLE","b1":1.31,"b2":2.935},
{"est":"MLE","b1":0.87,"b2":2.914},{"est":"MLE","b1":0.96,"b2":2.915},{"est":"MLE","b1":1.05,"b2":2.914},{"est":"MLE","b1":1.14,"b2":2.916},{"est":"MLE","b1":1.24,"b2":2.914},
{"est":"MLE","b1":0.91,"b2":2.894},{"est":"MLE","b1":1.0,"b2":2.895},{"est":"MLE","b1":1.1,"b2":2.893},{"est":"MLE","b1":1.21,"b2":2.895}
],
"top": [
{"est":"LSE","b1":0,"dens":0.95},{"est":"LSE","b1":0.05,"dens":0.22},{"est":"LSE","b1":0.1,"dens":0.13},{"est":"LSE","b1":0.15,"dens":0.2},{"est":"LSE","b1":0.2,"dens":0.13},{"est":"LSE","b1":0.25,"dens":0.37},{"est":"LSE","b1":0.3,"dens":0.42},{"est":"LSE","b1":0.35,"dens":0.46},{"est":"LSE","b1":0.4,"dens":0.27},{"est":"LSE","b1":0.45,"dens":0.44},{"est":"LSE","b1":0.5,"dens":0.4},{"est":"LSE","b1":0.55,"dens":0.73},{"est":"LSE","b1":0.6,"dens":0.46},{"est":"LSE","b1":0.65,"dens":0.48},{"est":"LSE","b1":0.7,"dens":0.84},{"est":"LSE","b1":0.75,"dens":0.73},{"est":"LSE","b1":0.8,"dens":0.46},{"est":"LSE","b1":0.85,"dens":0.79},{"est":"LSE","b1":0.9,"dens":0.92},{"est":"LSE","b1":0.95,"dens":0.77},{"est":"LSE","b1":1.0,"dens":0.86},{"est":"LSE","b1":1.05,"dens":0.46},{"est":"LSE","b1":1.1,"dens":0.66},{"est":"LSE","b1":1.15,"dens":0.55},{"est":"LSE","b1":1.2,"dens":0.71},{"est":"LSE","b1":1.25,"dens":0.77},{"est":"LSE","b1":1.3,"dens":0.73},{"est":"LSE","b1":1.35,"dens":0.58},{"est":"LSE","b1":1.4,"dens":0.64},{"est":"LSE","b1":1.45,"dens":0.61},{"est":"LSE","b1":1.5,"dens":0.33},{"est":"LSE","b1":1.55,"dens":0.37},{"est":"LSE","b1":1.6,"dens":0.51},{"est":"LSE","b1":1.65,"dens":0.28},{"est":"LSE","b1":1.7,"dens":0.17},{"est":"LSE","b1":1.75,"dens":0.15},{"est":"LSE","b1":1.8,"dens":0.26},{"est":"LSE","b1":1.85,"dens":0.26},{"est":"LSE","b1":1.9,"dens":0.22},{"est":"LSE","b1":1.95,"dens":0.06},{"est":"LSE","b1":2.0,"dens":0.04},{"est":"LSE","b1":2.05,"dens":0.11},{"est":"LSE","b1":2.1,"dens":0.13},{"est":"LSE","b1":2.15,"dens":0.11},{"est":"LSE","b1":2.2,"dens":0.13},{"est":"LSE","b1":2.25,"dens":0.04},{"est":"LSE","b1":2.3,"dens":0.02},{"est":"LSE","b1":2.35,"dens":0.04},{"est":"LSE","b1":2.4,"dens":0},{"est":"LSE","b1":2.45,"dens":0.06},{"est":"LSE","b1":2.5,"dens":0},
{"est":"MLE","b1":0,"dens":0},{"est":"MLE","b1":0.05,"dens":0},{"est":"MLE","b1":0.1,"dens":0},{"est":"MLE","b1":0.15,"dens":0},{"est":"MLE","b1":0.2,"dens":0},{"est":"MLE","b1":0.25,"dens":0},{"est":"MLE","b1":0.3,"dens":0.02},{"est":"MLE","b1":0.35,"dens":0.04},{"est":"MLE","b1":0.4,"dens":0.04},{"est":"MLE","b1":0.45,"dens":0.06},{"est":"MLE","b1":0.5,"dens":0.18},{"est":"MLE","b1":0.55,"dens":0.11},{"est":"MLE","b1":0.6,"dens":0.5},{"est":"MLE","b1":0.65,"dens":0.26},{"est":"MLE","b1":0.7,"dens":0.84},{"est":"MLE","b1":0.75,"dens":1.37},{"est":"MLE","b1":0.8,"dens":1.66},{"est":"MLE","b1":0.85,"dens":1.53},{"est":"MLE","b1":0.9,"dens":1.77},{"est":"MLE","b1":0.95,"dens":1.68},{"est":"MLE","b1":1.0,"dens":1.91},{"est":"MLE","b1":1.05,"dens":1.57},{"est":"MLE","b1":1.1,"dens":1.22},{"est":"MLE","b1":1.15,"dens":1.69},{"est":"MLE","b1":1.2,"dens":1.35},{"est":"MLE","b1":1.25,"dens":0.77},{"est":"MLE","b1":1.3,"dens":0.64},{"est":"MLE","b1":1.35,"dens":0.42},{"est":"MLE","b1":1.4,"dens":0.2},{"est":"MLE","b1":1.45,"dens":0.13},{"est":"MLE","b1":1.5,"dens":0.02},{"est":"MLE","b1":1.55,"dens":0.04},{"est":"MLE","b1":1.6,"dens":0},{"est":"MLE","b1":1.65,"dens":0},{"est":"MLE","b1":1.7,"dens":0},{"est":"MLE","b1":1.75,"dens":0.03},{"est":"MLE","b1":1.8,"dens":0},{"est":"MLE","b1":1.85,"dens":0.03},{"est":"MLE","b1":1.9,"dens":0},{"est":"MLE","b1":1.95,"dens":0},{"est":"MLE","b1":2.0,"dens":0},{"est":"MLE","b1":2.05,"dens":0},{"est":"MLE","b1":2.1,"dens":0},{"est":"MLE","b1":2.15,"dens":0},{"est":"MLE","b1":2.2,"dens":0},{"est":"MLE","b1":2.25,"dens":0},{"est":"MLE","b1":2.3,"dens":0},{"est":"MLE","b1":2.35,"dens":0},{"est":"MLE","b1":2.4,"dens":0},{"est":"MLE","b1":2.45,"dens":0},{"est":"MLE","b1":2.5,"dens":0}
],
"side": [
{"est":"LSE","b2":2.75,"dens":0.23},{"est":"LSE","b2":2.775,"dens":0.35},{"est":"LSE","b2":2.8,"dens":0.99},{"est":"LSE","b2":2.825,"dens":1.04},{"est":"LSE","b2":2.85,"dens":1.27},{"est":"LSE","b2":2.875,"dens":2.01},{"est":"LSE","b2":2.9,"dens":2.54},{"est":"LSE","b2":2.925,"dens":3.1},{"est":"LSE","b2":2.95,"dens":3.93},{"est":"LSE","b2":2.975,"dens":4.46},{"est":"LSE","b2":3.0,"dens":3.35},{"est":"LSE","b2":3.025,"dens":2.84},{"est":"LSE","b2":3.05,"dens":3.58},{"est":"LSE","b2":3.075,"dens":2.77},{"est":"LSE","b2":3.1,"dens":1.43},{"est":"LSE","b2":3.125,"dens":1.57},{"est":"LSE","b2":3.15,"dens":1.27},{"est":"LSE","b2":3.175,"dens":0.92},{"est":"LSE","b2":3.2,"dens":0.81},{"est":"LSE","b2":3.225,"dens":0.23},{"est":"LSE","b2":3.25,"dens":0.23},
{"est":"MLE","b2":2.75,"dens":0},{"est":"MLE","b2":2.775,"dens":0},{"est":"MLE","b2":2.8,"dens":0},{"est":"MLE","b2":2.825,"dens":0.58},{"est":"MLE","b2":2.85,"dens":1.16},{"est":"MLE","b2":2.875,"dens":1.62},{"est":"MLE","b2":2.9,"dens":2.08},{"est":"MLE","b2":2.925,"dens":3.12},{"est":"MLE","b2":2.95,"dens":4.69},{"est":"MLE","b2":2.975,"dens":6.25},{"est":"MLE","b2":3.0,"dens":6.25},{"est":"MLE","b2":3.025,"dens":6.1},{"est":"MLE","b2":3.05,"dens":5.55},{"est":"MLE","b2":3.075,"dens":3.47},{"est":"MLE","b2":3.1,"dens":2.7},{"est":"MLE","b2":3.125,"dens":1.43},{"est":"MLE","b2":3.15,"dens":0.46},{"est":"MLE","b2":3.175,"dens":0.35},{"est":"MLE","b2":3.2,"dens":0.08},{"est":"MLE","b2":3.225,"dens":0},{"est":"MLE","b2":3.25,"dens":0}
]
},
"vconcat": [
{
  "width": 522, "height": 75,
  "data": {"name": "top"},
  "layer": [
    {"transform": [{"filter": "datum.est == 'LSE'"}],
     "mark": {"type": "line", "interpolate": "step-after", "color": "#a9a9a9", "strokeWidth": 1.8, "clip": true},
     "encoding": {
       "x": {"field": "b1", "type": "quantitative", "scale": {"domain": [0, 2.5], "nice": false, "zero": false},
             "axis": {"orient": "bottom", "title": null, "labels": false, "values": [0,0.1,0.2,0.3,0.4,0.5,0.6,0.7,0.8,0.9,1,1.1,1.2,1.3,1.4,1.5,1.6,1.7,1.8,1.9,2,2.1,2.2,2.3,2.4,2.5],
                      "tickSize": {"condition": {"test": "abs(datum.value*2-round(datum.value*2))<0.001", "value": -11}, "value": -6}}},
       "y": {"field": "dens", "type": "quantitative", "scale": {"domain": [0, 2], "nice": false},
             "axis": {"orient": "left", "title": null, "labels": false, "values": [0,0.2,0.4,0.6,0.8,1,1.2,1.4,1.6,1.8,2],
                      "tickSize": {"condition": {"test": "abs(datum.value-round(datum.value))<0.001", "value": -11}, "value": -6}}}
     }},
    {"transform": [{"filter": "datum.est == 'MLE'"}],
     "mark": {"type": "line", "interpolate": "step-after", "color": "#000000", "strokeWidth": 1.8, "clip": true},
     "encoding": {
       "x": {"field": "b1", "type": "quantitative",
             "axis": {"orient": "top", "title": null, "labels": false, "values": [0,0.1,0.2,0.3,0.4,0.5,0.6,0.7,0.8,0.9,1,1.1,1.2,1.3,1.4,1.5,1.6,1.7,1.8,1.9,2,2.1,2.2,2.3,2.4,2.5],
                      "tickSize": {"condition": {"test": "abs(datum.value*2-round(datum.value*2))<0.001", "value": -11}, "value": -6}}},
       "y": {"field": "dens", "type": "quantitative",
             "axis": {"orient": "right", "title": null, "labels": false, "values": [0,0.2,0.4,0.6,0.8,1,1.2,1.4,1.6,1.8,2],
                      "tickSize": {"condition": {"test": "abs(datum.value-round(datum.value))<0.001", "value": -11}, "value": -6}}}
     }}
  ],
  "resolve": {"axis": {"x": "independent", "y": "independent"}}
},
{
  "hconcat": [
  {
    "width": 522, "height": 303,
    "layer": [
      {"data": {"name": "pts"},
       "mark": {"type": "point", "filled": true, "size": 40, "opacity": 1, "clip": true},
       "encoding": {
         "x": {"field": "b1", "type": "quantitative", "scale": {"domain": [0, 2.5], "nice": false, "zero": false},
               "axis": {"orient": "bottom", "title": "β₁", "values": [0,0.1,0.2,0.3,0.4,0.5,0.6,0.7,0.8,0.9,1,1.1,1.2,1.3,1.4,1.5,1.6,1.7,1.8,1.9,2,2.1,2.2,2.3,2.4,2.5],
                        "labelExpr": "abs(datum.value*2-round(datum.value*2))<0.001 ? format(datum.value, '.1f') : ''",
                        "tickSize": {"condition": {"test": "abs(datum.value*2-round(datum.value*2))<0.001", "value": -11}, "value": -6},
                        "labelPadding": 12, "titlePadding": 4}},
         "y": {"field": "b2", "type": "quantitative", "scale": {"domain": [2.75, 3.25], "nice": false, "zero": false},
               "axis": {"orient": "left", "title": "β₂", "values": [2.76,2.78,2.8,2.82,2.84,2.86,2.88,2.9,2.92,2.94,2.96,2.98,3,3.02,3.04,3.06,3.08,3.1,3.12,3.14,3.16,3.18,3.2,3.22,3.24],
                        "labelExpr": "abs(datum.value*10-round(datum.value*10))<0.001 ? format(datum.value, '.1f') : ''",
                        "tickSize": {"condition": {"test": "abs(datum.value*10-round(datum.value*10))<0.001", "value": -11}, "value": -6},
                        "labelPadding": 18, "titlePadding": 18}},
         "color": {"field": "est", "type": "nominal", "scale": {"domain": ["MLE", "LSE"], "range": ["#000000", "#a9a9a9"]},
                   "legend": {"title": null, "orient": "none", "legendX": 368, "legendY": 98, "direction": "vertical",
                              "fillColor": "#ffffff", "strokeColor": "#000000", "padding": 8, "cornerRadius": 0,
                              "labelFont": "Liberation Serif, DejaVu Serif, serif", "labelFontSize": 28, "labelColor": "#000000",
                              "symbolType": "circle", "symbolSize": 30, "symbolStrokeWidth": 0, "symbolOffset": 9,
                              "labelOffset": 25, "rowPadding": 10, "zindex": 2}}
       }},
      {"data": {"values": [{}]},
       "mark": {"type": "rule", "strokeDash": [8, 4], "strokeWidth": 1.8, "color": "#000000"},
       "encoding": {
         "x": {"datum": 1, "type": "quantitative",
               "axis": {"orient": "top", "title": null, "labels": false, "values": [0,0.1,0.2,0.3,0.4,0.5,0.6,0.7,0.8,0.9,1,1.1,1.2,1.3,1.4,1.5,1.6,1.7,1.8,1.9,2,2.1,2.2,2.3,2.4,2.5],
                        "tickSize": {"condition": {"test": "abs(datum.value*2-round(datum.value*2))<0.001", "value": -11}, "value": -6}}}
       }},
      {"data": {"values": [{}]},
       "mark": {"type": "rule", "strokeDash": [8, 4], "strokeWidth": 1.8, "color": "#000000"},
       "encoding": {
         "y": {"datum": 3, "type": "quantitative",
               "axis": {"orient": "right", "title": null, "labels": false, "values": [2.76,2.78,2.8,2.82,2.84,2.86,2.88,2.9,2.92,2.94,2.96,2.98,3,3.02,3.04,3.06,3.08,3.1,3.12,3.14,3.16,3.18,3.2,3.22,3.24],
                        "tickSize": {"condition": {"test": "abs(datum.value*10-round(datum.value*10))<0.001", "value": -11}, "value": -6}}}
       }}
    ],
    "resolve": {"axis": {"x": "independent", "y": "independent"}}
  },
  {
    "width": 91, "height": 303,
    "data": {"name": "side"},
    "layer": [
      {"transform": [{"filter": "datum.est == 'LSE'"}],
       "mark": {"type": "line", "interpolate": "step-before", "color": "#a9a9a9", "strokeWidth": 1.8, "clip": true},
       "encoding": {
         "x": {"field": "dens", "type": "quantitative", "scale": {"domain": [0, 6.3], "nice": false},
               "axis": {"orient": "bottom", "title": null, "labels": false, "values": [0,0.8,1.6,2.4,3.2,4,4.8,5.6],
                        "tickSize": {"condition": {"test": "abs(datum.value/4-round(datum.value/4))<0.001", "value": -11}, "value": -6}}},
         "y": {"field": "b2", "type": "quantitative", "scale": {"domain": [2.75, 3.25], "nice": false, "zero": false},
               "axis": {"orient": "left", "title": null, "labels": false, "values": [2.76,2.78,2.8,2.82,2.84,2.86,2.88,2.9,2.92,2.94,2.96,2.98,3,3.02,3.04,3.06,3.08,3.1,3.12,3.14,3.16,3.18,3.2,3.22,3.24],
                        "tickSize": {"condition": {"test": "abs(datum.value*10-round(datum.value*10))<0.001", "value": -11}, "value": -6}}},
         "order": {"field": "b2", "type": "quantitative"}
       }},
      {"transform": [{"filter": "datum.est == 'MLE'"}],
       "mark": {"type": "line", "interpolate": "step-before", "color": "#000000", "strokeWidth": 1.8, "clip": true},
       "encoding": {
         "x": {"field": "dens", "type": "quantitative",
               "axis": {"orient": "top", "title": null, "labels": false, "values": [0,0.8,1.6,2.4,3.2,4,4.8,5.6],
                        "tickSize": {"condition": {"test": "abs(datum.value/4-round(datum.value/4))<0.001", "value": -11}, "value": -6}}},
         "y": {"field": "b2", "type": "quantitative",
               "axis": {"orient": "right", "title": null, "labels": false, "values": [2.76,2.78,2.8,2.82,2.84,2.86,2.88,2.9,2.92,2.94,2.96,2.98,3,3.02,3.04,3.06,3.08,3.1,3.12,3.14,3.16,3.18,3.2,3.22,3.24],
                        "tickSize": {"condition": {"test": "abs(datum.value*10-round(datum.value*10))<0.001", "value": -11}, "value": -6}}},
         "order": {"field": "b2", "type": "quantitative"}
       }}
    ],
    "resolve": {"axis": {"x": "independent", "y": "independent"}}
  }
  ],
  "spacing": 12,
  "bounds": "flush"
}
]
}
